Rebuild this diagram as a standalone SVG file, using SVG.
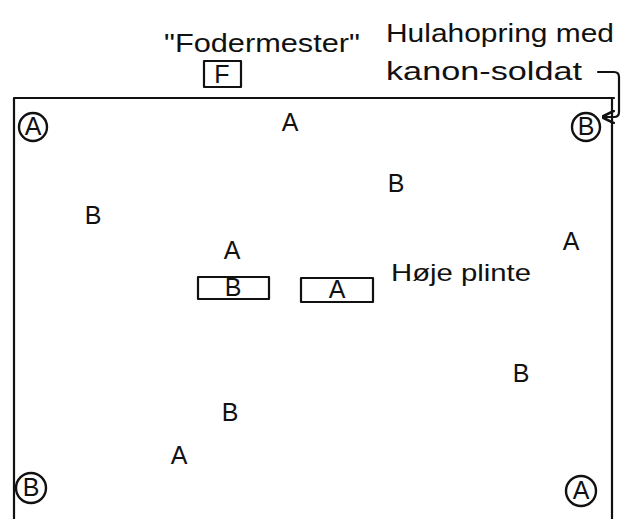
<svg xmlns="http://www.w3.org/2000/svg" width="634" height="519" viewBox="0 0 634 519">
<defs>
<style>
.t{font-family:"Liberation Sans","DejaVu Sans",sans-serif;fill:#111;}
.l{font-size:25px;text-anchor:middle;}
.s{font-size:26px;}
.c{fill:none;stroke:#111;stroke-width:2.4;}
.ln{fill:none;stroke:#111;stroke-width:2.2;stroke-linecap:round;stroke-linejoin:round;}
</style>
<marker id="ah" viewBox="0 0 10 10" refX="9" refY="5" markerWidth="6" markerHeight="6" orient="auto-start-reverse">
<path d="M0,0 L10,5 L0,10" fill="none" stroke="#111" stroke-width="2"/>
</marker>
</defs>
<rect width="634" height="519" fill="#fff"/>
<g id="field">
<path class="ln" d="M14,98 L614,98 M14,98 L14,519 M612,98 L612,519"/>
</g>
<g id="fodermester">
<text class="t s" x="262" y="52" text-anchor="middle" textLength="196" lengthAdjust="spacingAndGlyphs">"Fodermester"</text>
<rect class="ln" x="204" y="61" width="37" height="26"/>
<text class="t l" x="222" y="83" font-size="22">F</text>
</g>
<g id="hulahop-label">
<text class="t s" x="386" y="42" textLength="228" lengthAdjust="spacingAndGlyphs">Hulahopring med</text>
<text class="t s" x="386" y="80" textLength="196" lengthAdjust="spacingAndGlyphs">kanon-soldat</text>
</g>
<g id="corner-tl"><circle class="c" cx="33" cy="127" r="14"/><text class="t l" x="33" y="135" font-size="21">A</text></g>
<g id="corner-tr"><circle class="c" cx="586" cy="127" r="14"/><text class="t l" x="586" y="135" font-size="21">B</text></g>
<g id="corner-bl"><circle class="c" cx="31" cy="488" r="15"/><text class="t l" x="31" y="496" font-size="21">B</text></g>
<g id="corner-br"><circle class="c" cx="581" cy="491" r="15"/><text class="t l" x="581" y="499" font-size="21">A</text></g>
<g id="a1"><text class="t l" x="290" y="131">A</text></g>
<g id="b1"><text class="t l" x="396" y="192">B</text></g>
<g id="b2"><text class="t l" x="93" y="224">B</text></g>
<g id="a2"><text class="t l" x="571" y="250">A</text></g>
<g id="a3"><text class="t l" x="232" y="259">A</text></g>
<g id="plinth-b"><rect class="ln" x="198" y="277" width="71" height="22"/><text class="t l" x="233" y="296" font-size="18">B</text></g>
<g id="plinth-a"><rect class="ln" x="301" y="278" width="72" height="24"/><text class="t l" x="337" y="298" font-size="18">A</text></g>
<g id="plinth-label"><text class="t" x="391" y="281" font-size="24" textLength="140" lengthAdjust="spacingAndGlyphs">Høje plinte</text></g>
<g id="b3"><text class="t l" x="521" y="382">B</text></g>
<g id="b4"><text class="t l" x="230" y="421">B</text></g>
<g id="a4"><text class="t l" x="179" y="464">A</text></g>
<g id="connectors">
<path class="ln" d="M598,72 L614,72 Q619,72 619,77 L619,112 Q619,117 614,117 L603,117" marker-end="url(#ah)"/>
</g>
</svg>
